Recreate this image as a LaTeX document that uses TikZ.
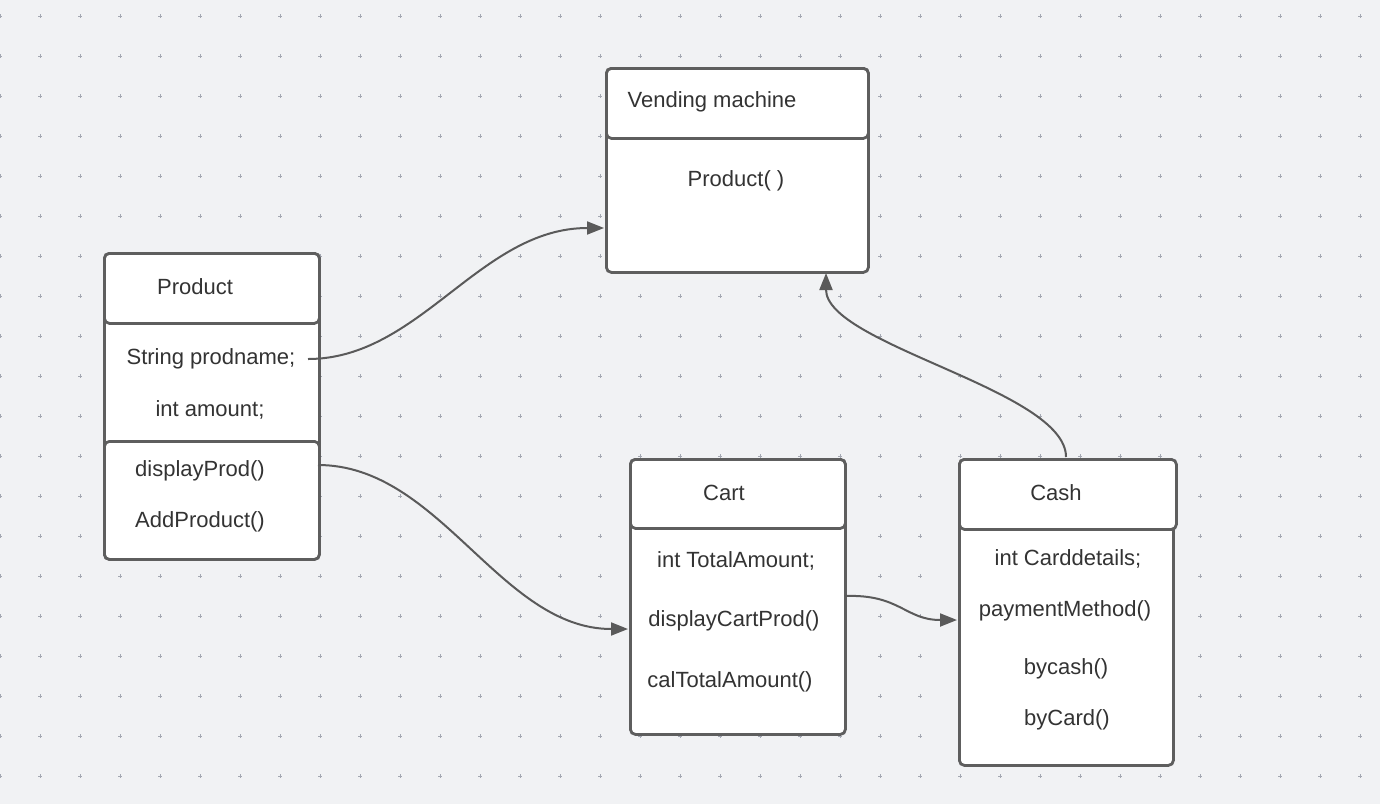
\documentclass[tikz,border=0pt]{standalone}
\usepackage{fontspec}
\setmainfont{Liberation Sans}
\usetikzlibrary{arrows.meta}
\definecolor{bgc}{HTML}{F1F2F4}
\definecolor{dotc}{HTML}{A4A8B2}
\definecolor{boxc}{HTML}{5E5E5E}
\definecolor{linec}{HTML}{5A5A5A}
\definecolor{txtc}{HTML}{333333}
\tikzset{
  umlbox/.style={draw=boxc, line width=2.8pt, rounded corners=5pt, fill=white,
    inner sep=0pt, anchor=north west, minimum width=#1},
  lbl/.style={text=txtc, font=\fontsize{22}{26}\selectfont, inner sep=0pt, anchor=center, yshift=-1.5pt},
  conn/.style={draw=linec, line width=2pt, -{Triangle[length=17pt,width=13pt]}},
  gdot/.style={draw=dotc, line width=0.6pt}
}
\begin{document}
\begin{tikzpicture}[x=1pt,y=-1pt]
\fill[bgc] (0,0) rectangle (1380,804);
\useasboundingbox (0,0) rectangle (1380,804);
\foreach \x in {0,40,...,1360} {
  \foreach \y in {16,56,...,796} {
    \draw[gdot] (\x-1.8,\y) -- (\x+1.8,\y) (\x,\y-1.8) -- (\x,\y+1.8);
  }
}
% Vending machine
\node[umlbox=262pt, minimum height=204pt] (vmbody) at (605,67) {};
\node[umlbox=262pt, minimum height=70pt] (vmhead) at (605,67) {};
\node[lbl] (vmt) at (712,100) {Vending machine};
\node[lbl] (vm1) at (736,179) {Product( )};
% Product
\node[umlbox=215pt, minimum height=306pt] (prbody) at (103,252) {};
\node[umlbox=215pt, minimum height=70pt] (prhead) at (103,252) {};
\node[umlbox=215pt, minimum height=118pt] (prmeth) at (103,440) {};
\node[lbl] (prt) at (195,285) {Product};
\node[lbl] (pr1) at (211,357) {String prodname;};
\node[lbl] (pr2) at (210,408) {int amount;};
\node[lbl] (pr3) at (200,469) {displayProd()};
\node[lbl] (pr4) at (200,520) {AddProduct()};
% Cart
\node[umlbox=215pt, minimum height=275pt] (cabody) at (629,458) {};
\node[umlbox=215pt, minimum height=69pt] (cahead) at (629,458) {};
\node[lbl] (cat) at (724,491) {Cart};
\node[lbl] (ca1) at (736,559) {int TotalAmount;};
\node[lbl] (ca2) at (734,619) {displayCartProd()};
\node[lbl] (ca3) at (730,680) {calTotalAmount()};
% Cash
\node[umlbox=214pt, minimum height=306pt] (csbody) at (958,458) {};
\node[umlbox=217pt, minimum height=70pt] (cshead) at (958,458) {};
\node[lbl] (cst) at (1056,491) {Cash};
\node[lbl] (cs1) at (1068,557) {int Carddetails;};
\node[lbl] (cs2) at (1065,609) {paymentMethod()};
\node[lbl] (cs3) at (1066,667) {bycash()};
\node[lbl] (cs4) at (1067,718) {byCard()};
% connector end points
\coordinate (p1s) at (308,359);
\coordinate (p1e) at (604,228);
\coordinate (p2s) at (318,465);
\coordinate (p2e) at (628,629);
\coordinate (p3s) at (845,596);
\coordinate (p3e) at (957,620);
\coordinate (p4s) at (1066,457);
\coordinate (p4e) at (826,273);
\draw[conn] (p1s) .. controls (420,359) and (480,228) .. (p1e);
\draw[conn] (p2s) .. controls (440,465) and (500,629) .. (p2e);
\draw[conn] (p3s) .. controls (900,594) and (905,620) .. (p3e);
\draw[conn] (p4s) .. controls (1066,390) and (826,345) .. (p4e);
\end{tikzpicture}
\end{document}
